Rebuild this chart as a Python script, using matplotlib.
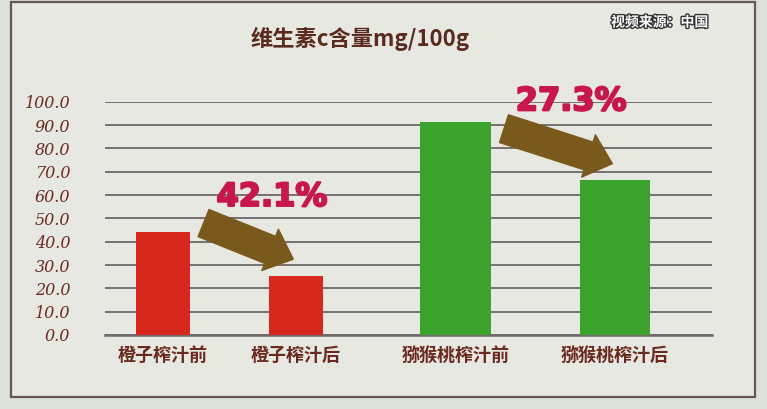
import matplotlib.pyplot as plt
import matplotlib.patheffects as pe
from matplotlib.patches import Rectangle

plt.rcParams['font.family'] = ['Noto Sans CJK SC', 'DejaVu Sans']

# 数据
categories = ['橙子榨汁前', '橙子榨汁后', '猕猴桃榨汁前', '猕猴桃榨汁后']
vitamin_c = [44.0, 25.5, 91.5, 66.5]
drops = ['42.1%', '27.3%']
yticks = [0, 10, 20, 30, 40, 50, 60, 70, 80, 90, 100]

positions = [0, 1, 2.2, 3.4]
widths = [0.41, 0.41, 0.53, 0.53]
colors = ['#d8281e', '#d8281e', '#3ba22e', '#3ba22e']
brown = '#6a2a20'

fig = plt.figure(figsize=(7.67, 4.09), dpi=100)
fig.patch.set_facecolor('#dde2d8')
# 外框
fig.patches.append(Rectangle((11 / 767, 12 / 409), 744 / 767, 395 / 409,
                             transform=fig.transFigure, facecolor='#e6e8e1',
                             edgecolor='#6a5656', linewidth=1.6, zorder=-5))

ax = fig.add_axes([0.137, 0.181, 0.791, 0.570])
ax.set_facecolor('none')
ax.bar(positions, vitamin_c, width=widths, color=colors, zorder=3)

ax.set_ylim(0, 100)
ax.set_xlim(-0.436, 4.128)
ax.set_yticks(yticks)
ax.set_yticklabels([f'{t:.1f}' for t in yticks], color=brown, fontsize=11.5,
                   family=['DejaVu Serif'], style='italic')
ax.yaxis.grid(True, color='#757171', linewidth=1.4, zorder=1)
ax.tick_params(axis='y', length=0, pad=25)
ax.tick_params(axis='x', length=0, pad=8)
ax.set_xticks(positions)
ax.set_xticklabels(categories, color=brown, fontsize=13, fontweight='bold')
for s in ['top', 'right', 'left']:
    ax.spines[s].set_visible(False)
ax.spines['bottom'].set_color('#6e6a6a')
ax.spines['bottom'].set_linewidth(1.8)

# 下降箭头和百分比
pairs = [(0, 1), (2, 3)]
tail_dy = [4, -3]
label_xy = [(0.82, 59), (3.07, 100)]
for k, (i, j) in enumerate(pairs):
    tail = (positions[i] + widths[i] / 2 + 0.1, vitamin_c[i] + tail_dy[k])
    tip = (positions[j] - 0.02, vitamin_c[j] + 7)
    ax.annotate('', xy=tip, xytext=tail, zorder=4,
                arrowprops=dict(arrowstyle='simple,head_length=0.9,head_width=1.6,tail_width=1.05',
                                facecolor='#7a5a1c', edgecolor='#7a5a1c',
                                shrinkA=0, shrinkB=0, mutation_scale=20))
    ax.text(label_xy[k][0], label_xy[k][1], drops[k], color='#c8174a',
            fontsize=23, fontweight='bold', family=['DejaVu Sans'],
            ha='center', va='center', zorder=5,
            path_effects=[pe.withStroke(linewidth=1.5, foreground='#c8174a')])

fig.text(0.47, 0.905, '维生素c含量mg/100g', color='#5a2a1e', fontsize=16,
         fontweight='bold', ha='center', va='center')
fig.text(0.86, 0.945, '视频来源：中国', color='white', fontsize=10,
         fontweight='bold', ha='center', va='center',
         path_effects=[pe.withStroke(linewidth=2, foreground='#333333')])

fig.savefig('out.png', dpi=100, facecolor=fig.get_facecolor())
